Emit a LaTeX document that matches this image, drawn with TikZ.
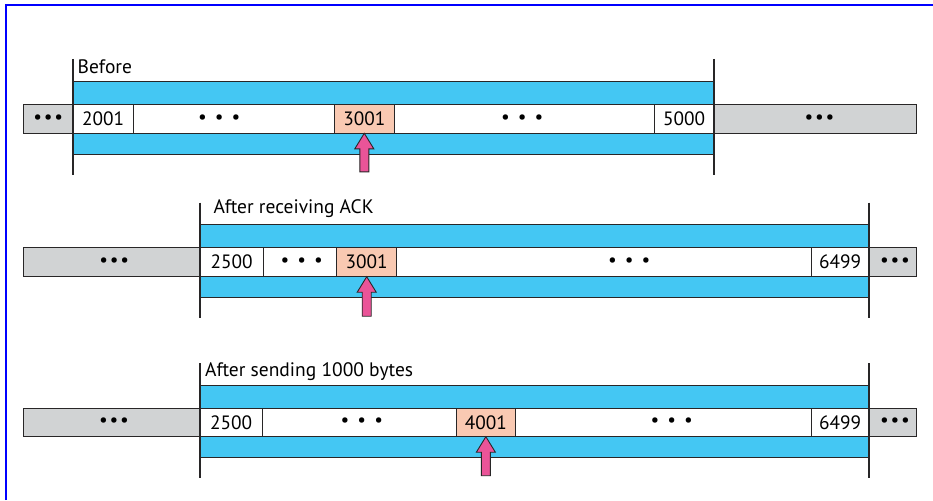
\documentclass[tikz,border=0pt]{standalone}
\usepackage{fontspec}
\setmainfont{PT Sans}
\definecolor{bandblue}{RGB}{68,199,243}
\definecolor{pinkcell}{RGB}{249,201,178}
\definecolor{graycell}{RGB}{209,211,212}
\definecolor{arrowpink}{RGB}{234,84,152}
\definecolor{ink}{RGB}{40,38,39}
\definecolor{frameblue}{RGB}{0,0,255}
\newcommand\cellbox[7]{%
  \node[cellst,#6,minimum width={(#3-#2)*1pt},minimum height={(#5-#4)*1pt}]
    (#1) at ({(#2+#3)/2},{(#4+#5)/2}) {#7};}
\newcommand\wdots{\makebox[16.8pt]{\textbullet}\makebox[16.8pt]{\textbullet}\makebox[16.8pt]{\textbullet}}
\newcommand\gdots{\makebox[10.5pt]{\textbullet}\makebox[10.5pt]{\textbullet}\makebox[10.5pt]{\textbullet}}
% dots inside a cell: name of dot node, cell, x offset from the cell centre, content
\newcommand\dotsin[4]{\node[dotst] (#1) at ([xshift=#3pt]#2.center) {#4};}
\newcommand\blockarrow[3]{% target node, head base y offset, bottom y offset
  \draw[arrowst] (#1.south) -- ++(9.5,#2) -- ++(-5,0) -- ++(0,#3) -- ++(-9,0)
     -- ++(0,-#3) -- ++(-5,0) -- cycle;}
\begin{document}
\begin{tikzpicture}[x=1pt,y=-1pt,
  cellst/.style={draw=ink,line width=0.9pt,inner sep=0pt,outer sep=0pt,
     font=\fontsize{19.3}{22}\selectfont,text=black},
  dotst/.style={inner sep=0pt,font=\fontsize{19.3}{22}\selectfont,text=black},
  whitec/.style={fill=white},
  pinkc/.style={fill=pinkcell},
  grayc/.style={fill=graycell},
  band/.style={fill=bandblue,draw=ink,line width=0.9pt},
  wall/.style={draw=ink,line width=2.2pt},
  arrowst/.style={fill=arrowpink,draw=ink,line width=0.9pt,line join=miter},
  lbl/.style={anchor=base west,inner sep=0pt,font=\fontsize{19.5}{22}\selectfont}]
\useasboundingbox (0,0) rectangle (933,500);
\fill[white] (0,0) rectangle (933,500);
\draw[frameblue,line width=2pt] (6,500) -- (6,5.2) -- (933,5.2);

% ---------- Row 1: Before ----------
\path[band] (73,81.7) rectangle (714,154);
\cellbox{a0}{23.3}{73}{104.3}{133.3}{grayc}{}
\cellbox{a1}{73}{133.3}{104.3}{133.3}{whitec}{2001}
\cellbox{a2}{133.3}{334.3}{104.3}{133.3}{whitec}{}
\cellbox{a3}{334.3}{394.3}{104.3}{133.3}{pinkc}{3001}
\cellbox{a4}{394.3}{654.3}{104.3}{133.3}{whitec}{}
\cellbox{a5}{654.3}{714}{104.3}{133.3}{whitec}{5000}
\cellbox{a6}{714}{916.7}{104.3}{133.3}{grayc}{}
\dotsin{da0}{a0}{0}{\gdots}
\dotsin{da2}{a2}{-14.5}{\wdots}
\dotsin{da4}{a4}{-2}{\wdots}
\dotsin{da6}{a6}{4}{\gdots}
\coordinate (aL1) at (73,59); \coordinate (aL2) at (73,175);
\coordinate (aR1) at (714,59); \coordinate (aR2) at (714,175);
\draw[wall] (aL1) -- (aL2);
\draw[wall] (aR1) -- (aR2);
\node[lbl] (la) at (77.5,74) {Before};
\blockarrow{a3}{15.5}{23}

% ---------- Row 2: After receiving ACK ----------
\path[band] (200,224.3) rectangle (868.7,297.3);
\cellbox{b0}{23.3}{200}{247.7}{276.7}{grayc}{}
\cellbox{b1}{200}{263.3}{247.7}{276.7}{whitec}{2500}
\cellbox{b2}{263.3}{336.7}{247.7}{276.7}{whitec}{}
\cellbox{b3}{336.7}{396.7}{247.7}{276.7}{pinkc}{3001}
\cellbox{b4}{396.7}{811.7}{247.7}{276.7}{whitec}{}
\cellbox{b5}{811.7}{868.7}{247.7}{276.7}{whitec}{6499}
\cellbox{b6}{868.7}{916}{247.7}{276.7}{grayc}{}
\dotsin{db0}{b0}{2.6}{\gdots}
\dotsin{db2}{b2}{1.7}{\wdots}
\dotsin{db4}{b4}{25}{\wdots}
\dotsin{db6}{b6}{2.7}{\gdots}
\coordinate (bL1) at (200,202.7); \coordinate (bL2) at (200,318);
\coordinate (bR1) at (868.7,202.7); \coordinate (bR2) at (868.7,318);
\draw[wall] (bL1) -- (bL2);
\draw[wall] (bR1) -- (bR2);
\node[lbl] (lb) at (213.3,213.3) {After receiving ACK};
\blockarrow{b3}{15.5}{24}

% ---------- Row 3: After sending 1000 bytes ----------
\path[band] (200,385) rectangle (868.7,457.7);
\cellbox{c0}{23.3}{200}{408.3}{436.7}{grayc}{}
\cellbox{c1}{200}{262.3}{408.3}{436.7}{whitec}{2500}
\cellbox{c2}{262.3}{456}{408.3}{436.7}{whitec}{}
\cellbox{c3}{456}{515.7}{408.3}{436.7}{pinkc}{4001}
\cellbox{c4}{515.7}{811.7}{408.3}{436.7}{whitec}{}
\cellbox{c5}{811.7}{868.7}{408.3}{436.7}{whitec}{6499}
\cellbox{c6}{868.7}{916}{408.3}{436.7}{grayc}{}
\dotsin{dc0}{c0}{2.3}{\gdots}
\dotsin{dc2}{c2}{2.7}{\wdots}
\dotsin{dc4}{c4}{8}{\wdots}
\dotsin{dc6}{c6}{2.7}{\gdots}
\coordinate (cL1) at (200,363); \coordinate (cL2) at (200,478);
\coordinate (cR1) at (868.7,363); \coordinate (cR2) at (868.7,478);
\draw[wall] (cL1) -- (cL2);
\draw[wall] (cR1) -- (cR2);
\node[lbl] (lc) at (205,376.7) {After sending 1000 bytes};
\blockarrow{c3}{15.5}{23.5}
\end{tikzpicture}
\end{document}
